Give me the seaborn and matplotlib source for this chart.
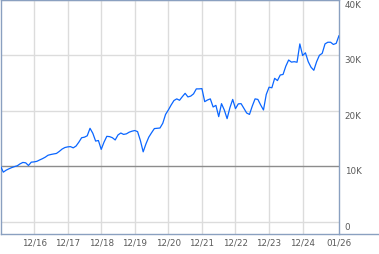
import matplotlib
matplotlib.use("Agg")
import matplotlib.pyplot as plt
from matplotlib.lines import Line2D
import seaborn as sns
import pandas as pd

# Monthly values, Dec 2015 (month 0) .. Jan 2026 (month 121)
values = [
    10000, 8900, 9250, 9500, 9720, 9900, 10050, 10400, 10650, 10580,
    10100, 10700, 10750, 10850, 11100, 11330, 11600, 11950, 12080, 12180,
    12270, 12630, 13050, 13330, 13450, 13500, 13280, 13600, 14300, 15100,
    15200, 15450, 16800, 15900, 14500, 14600, 13000, 14300, 15350, 15300,
    15100, 14700, 15600, 15950, 15700, 15800, 16100, 16280, 16400, 16200,
    14600, 12560, 14000, 15200, 16000, 16750, 16800, 16850, 17700, 19300,
    20100, 21000, 21800, 22100, 21850, 22500, 23100, 22450, 22600, 23000,
    23900, 23900, 23950, 21600, 21900, 22100, 20640, 20930, 18900, 21240,
    20100, 18540, 20500, 22000, 20340, 21200, 21240, 20400, 19550, 19300,
    20800, 22100, 22000, 21000, 20100, 22900, 24200, 24100, 25800, 25400,
    26400, 26500, 28000, 29100, 28720, 28800, 28700, 32000, 29900, 30400,
    28800, 27800, 27250, 28800, 29950, 30300, 32000, 32300, 32300, 31900,
    32100, 33500,
]
months = list(range(len(values)))

x_tick_pos = [12, 24, 36, 48, 60, 72, 84, 96, 108, 121]
x_tick_labels = ["12/16", "12/17", "12/18", "12/19", "12/20",
                 "12/21", "12/22", "12/23", "12/24", "01/26"]
y_tick_pos = [0, 10000, 20000, 30000, 40000]
y_tick_labels = ["0", "10K", "20K", "30K", "40K"]

sns.set_style("white")
plt.rcParams["font.family"] = ["DejaVu Sans"]

W, H = 379, 255
fig = plt.figure(figsize=(W / 100, H / 100), dpi=100)
ax = fig.add_axes([0.5 / W, 1 - 234.5 / H, 338.5 / W, 234 / H])

df = pd.DataFrame({"month": months, "value": values})

ax.set_xlim(0, 121)
ax.set_ylim(-2150, 40000)

# grid
for xp in x_tick_pos[:-1]:
    ax.axvline(xp, color="#dcdcdc", lw=1.0, zorder=0)
for yp in y_tick_pos:
    if yp == 10000:
        ax.axhline(yp, color="#8c8c8c", lw=1.0, zorder=1)
    else:
        ax.axhline(yp, color="#dcdcdc", lw=1.0, zorder=0)

sns.lineplot(data=df, x="month", y="value", ax=ax, color="#0a66ff",
             lw=0.9, zorder=3, legend=False)

ax.set_xlabel("")
ax.set_ylabel("")
ax.set_xticks(x_tick_pos)
ax.set_xticklabels(x_tick_labels)
ax.set_yticks(y_tick_pos)
ax.set_yticklabels(y_tick_labels)
ax.yaxis.tick_right()
ax.tick_params(axis="both", length=0, labelsize=6.3, labelcolor="#5a5a5a")
ax.tick_params(axis="x", pad=3)
ax.tick_params(axis="y", pad=4)
for lab in ax.get_yticklabels():
    lab.set_va("top")

for s in ax.spines.values():
    s.set_visible(True)
    s.set_color("#8aa0c0")
    s.set_linewidth(1.0)

# extend bottom border under the value labels
fig.add_artist(Line2D([339 / W, 1], [1 - 234.5 / H, 1 - 234.5 / H],
                      transform=fig.transFigure, color="#8aa0c0", lw=1.0))

fig.savefig("out.png", dpi=100)
